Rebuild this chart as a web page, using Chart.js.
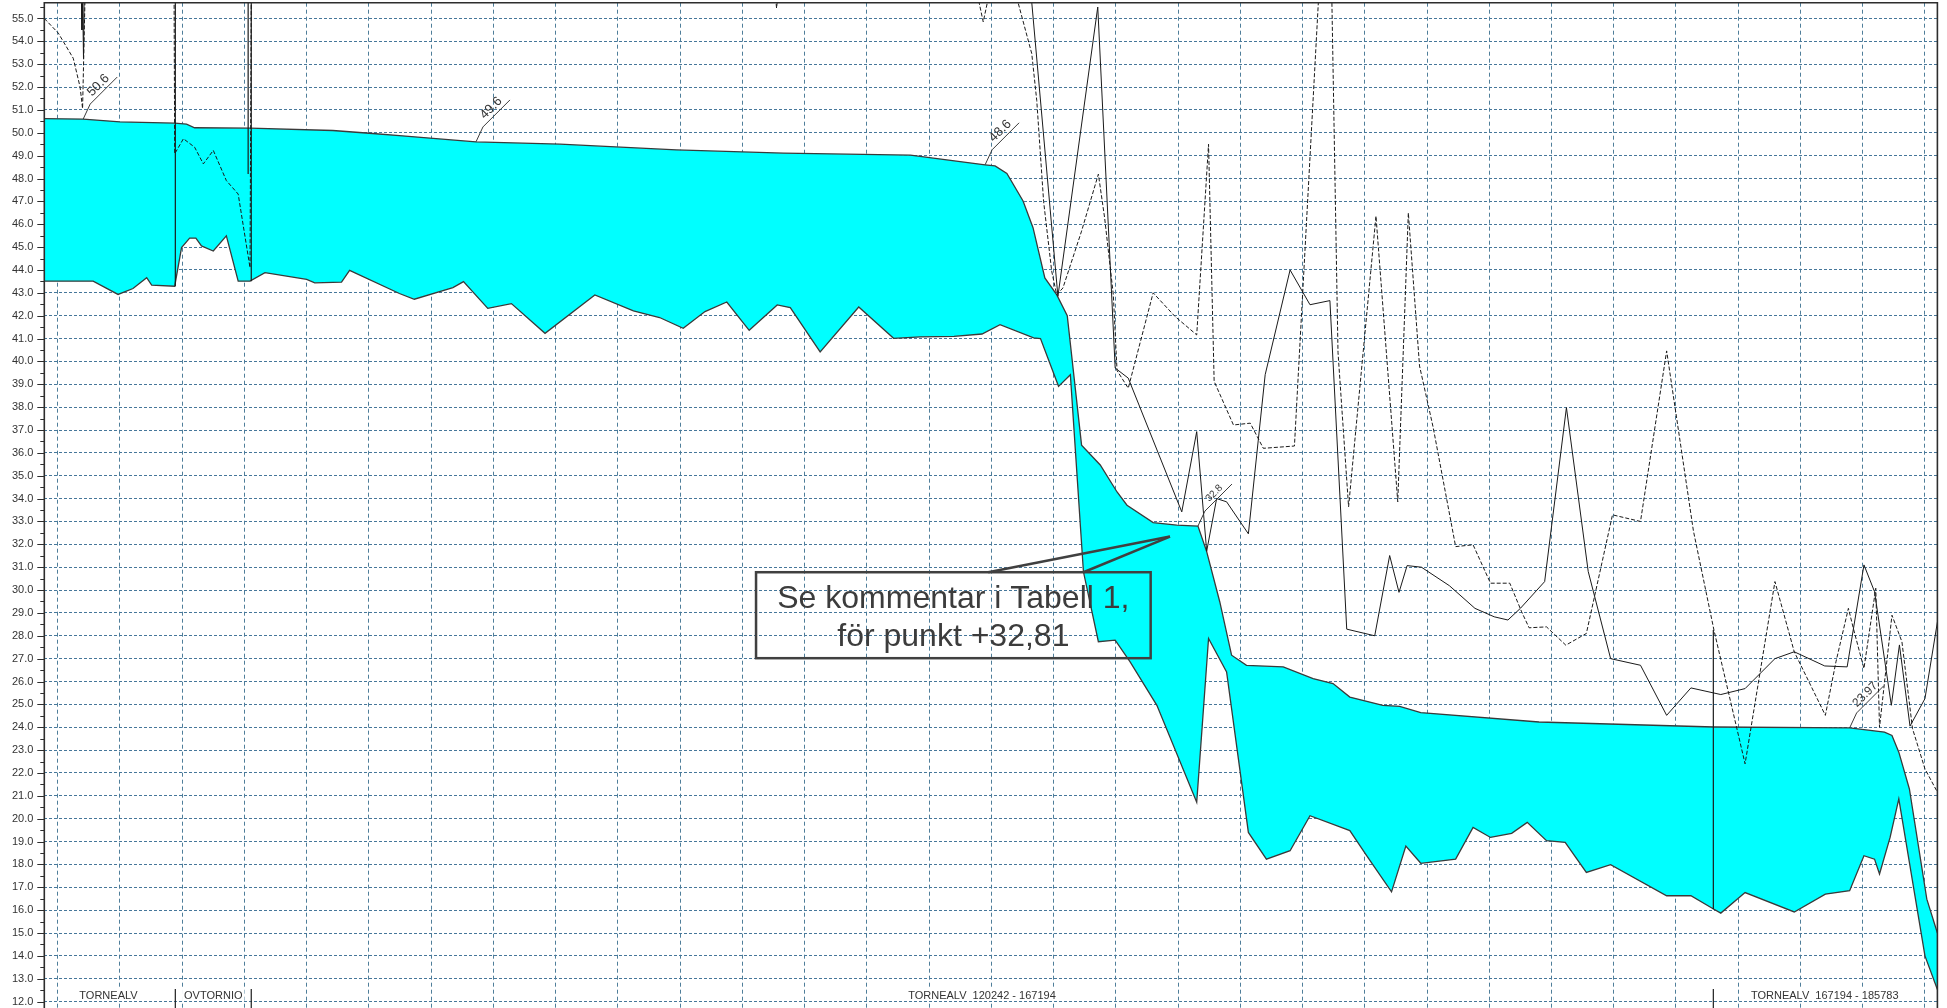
<!DOCTYPE html>
<html>
<head>
<meta charset="utf-8">
<title>Tornealv - längdprofil</title>
<script src="https://cdn.jsdelivr.net/npm/chart.js@4.4.1/dist/chart.umd.min.js"></script>
<style>
  html, body { margin: 0; padding: 0; background: #fff; }
  #wrap { width: 1947px; height: 1008px; position: relative; }
</style>
</head>
<body>
<div id="wrap"><canvas id="profile"></canvas></div>
<script>
// station (grid units along the river) / elevation (m)
const waterSurface = [
  [-0.215, 50.62], [0.41, 50.6], [1.0, 50.48], [1.88, 50.42], [2.07, 50.38], [2.2, 50.22],
  [3.09, 50.2], [4.42, 50.1], [5.06, 49.97], [5.49, 49.88], [6.72, 49.6], [8.07, 49.5],
  [9.94, 49.25], [11.66, 49.11], [13.7, 49.02], [14.9, 48.6], [15.06, 48.55], [15.25, 48.22],
  [15.51, 47.02], [15.67, 45.85], [15.86, 43.65], [16.05, 42.92], [16.22, 42.0], [16.45, 36.34],
  [16.75, 35.47], [17.02, 34.29], [17.18, 33.71], [17.6, 32.95], [17.98, 32.84], [18.32, 32.8],
  [18.46, 31.68], [18.67, 29.49], [18.86, 27.15], [19.1, 26.71], [19.69, 26.64], [20.17, 26.13],
  [20.49, 25.91], [20.76, 25.32], [21.29, 24.96], [21.56, 24.91], [21.9, 24.64], [23.8, 24.23],
  [26.61, 24.01], [28.79, 23.97], [29.35, 23.79], [29.47, 23.64], [29.58, 22.91], [29.75, 21.3],
  [30.03, 16.48], [30.2, 15.0]
];

const channelBed = [
  [-0.215, 43.51], [0.57, 43.51], [0.97, 42.93], [1.21, 43.19], [1.43, 43.66], [1.51, 43.34],
  [1.88, 43.29], [1.99, 44.98], [2.12, 45.39], [2.22, 45.39], [2.31, 45.05], [2.5, 44.83],
  [2.71, 45.49], [2.9, 43.51], [3.09, 43.51], [3.33, 43.88], [4.0, 43.59], [4.13, 43.44],
  [4.56, 43.47], [4.69, 43.98], [5.49, 42.97], [5.73, 42.72], [6.35, 43.23], [6.52, 43.49],
  [6.91, 42.32], [7.29, 42.53], [7.83, 41.23], [8.63, 42.91], [9.25, 42.21], [9.67, 41.92],
  [10.05, 41.45], [10.4, 42.18], [10.75, 42.6], [11.11, 41.36], [11.56, 42.47], [11.77, 42.35],
  [12.25, 40.42], [12.87, 42.38], [13.43, 41.01], [13.86, 41.07], [14.4, 41.1], [14.85, 41.2],
  [15.14, 41.61], [15.68, 41.03], [15.79, 41.0], [16.08, 38.91], [16.27, 39.42], [16.48, 30.8],
  [16.72, 27.74], [16.99, 27.81], [17.23, 26.86], [17.66, 24.96], [18.3, 20.72], [18.49, 27.88],
  [18.78, 26.42], [19.13, 19.4], [19.42, 18.23], [19.8, 18.6], [20.12, 20.13], [20.76, 19.48],
  [21.03, 18.38], [21.43, 16.8], [21.66, 18.8], [21.9, 18.05], [22.46, 18.23], [22.74, 19.62],
  [23.02, 19.18], [23.36, 19.36], [23.61, 19.84], [23.92, 19.04], [24.22, 18.96], [24.56, 17.65],
  [24.95, 17.99], [25.85, 16.63], [26.24, 16.63], [26.61, 16.04], [26.72, 15.87], [27.11, 16.77],
  [27.9, 15.92], [28.4, 16.7], [28.79, 16.85], [29.02, 18.38], [29.19, 18.23], [29.27, 17.58],
  [29.44, 19.18], [29.58, 20.87], [30.0, 14.0], [30.2, 12.53]
];

// bank levels, mostly above the plotted range upstream
const leftBank = [
  [-0.215, 56], [0.38, 56], [0.39, 54.5], [0.4, 56], [0.405, 56], [0.415, 53.25], [0.425, 56],
  [15.64, 56], [16.07, 42.85], [16.71, 55.5], [16.99, 39.71], [17.2, 39.27], [18.06, 33.42],
  [18.3, 36.93], [18.46, 31.7], [18.62, 34.0], [18.78, 33.86], [19.13, 32.46], [19.4, 39.42],
  [19.8, 44.0], [20.12, 42.48], [20.44, 42.66], [20.71, 28.29], [21.16, 28.0], [21.4, 31.51],
  [21.55, 29.9], [21.68, 31.07], [21.91, 31.0], [22.36, 30.19], [22.77, 29.2], [23.08, 28.83],
  [23.3, 28.69], [23.5, 29.2], [23.89, 30.37], [24.24, 37.98], [24.59, 30.81], [24.95, 27.0],
  [25.43, 26.71], [25.85, 24.52], [26.24, 25.72], [26.72, 25.43], [27.11, 25.69], [27.59, 27.0],
  [27.9, 27.3], [28.39, 26.68], [28.75, 26.64], [29.02, 31.1], [29.19, 29.93], [29.46, 24.96],
  [29.59, 27.6], [29.76, 24.05], [30.0, 25.25], [30.2, 28.6]
];

const rightBank = [
  [-0.215, 55.0], [0.01, 54.36], [0.25, 53.26], [0.36, 52.0], [0.4, 51.06], [0.44, 56],
  [1.87, 56], [1.88, 49.08], [2.02, 49.74], [2.2, 49.37], [2.34, 48.64], [2.5, 49.23],
  [2.71, 47.91], [2.9, 47.32], [3.09, 44.1], [3.11, 56], [11.53, 56], [11.55, 55.45],
  [11.57, 56], [14.78, 56], [14.87, 54.85], [14.96, 56], [15.4, 56], [15.65, 53.46],
  [15.73, 51.41], [15.84, 47.0], [15.97, 43.95], [16.05, 42.92], [16.15, 43.21], [16.45, 45.7],
  [16.72, 48.19], [16.82, 46.29], [16.96, 42.92], [17.02, 39.6], [17.2, 38.83], [17.6, 43.0],
  [17.95, 41.97], [18.3, 41.16], [18.49, 49.5], [18.58, 39.13], [18.89, 37.22], [19.16, 37.3],
  [19.37, 36.2], [19.87, 36.3], [20.26, 56], [20.47, 56], [20.57, 40.4], [20.74, 33.64],
  [21.18, 46.36], [21.53, 33.86], [21.7, 46.5], [21.88, 39.8], [22.1, 37.1], [22.46, 31.9],
  [22.74, 31.98], [23.02, 30.3], [23.33, 30.3], [23.52, 29.05], [23.64, 28.35], [23.92, 28.39],
  [24.23, 27.59], [24.56, 28.1], [24.98, 33.29], [25.43, 33.0], [25.85, 40.46], [26.28, 32.59],
  [26.61, 28.25], [27.11, 22.4], [27.59, 30.37], [27.9, 27.3], [28.4, 24.52], [28.57, 26.86],
  [28.77, 29.2], [28.85, 28.32], [29.02, 26.57], [29.21, 30.08], [29.27, 24.0], [29.47, 28.9],
  [29.63, 27.74], [29.8, 23.94], [30.0, 22.18], [30.2, 21.16]
];

// vertical structure lines: station, upper and lower elevation
const structureLines = [[1.89, 56, 43.29], [3.06, 56, 48.2], [3.11, 56, 43.51], [26.6, 28.25, 16.04]];

// water levels written on the profile (stations in waterSurface)
const wsTagAt = [0.41, 6.72, 14.9, 18.32, 28.79];

const reachNames = ['TORNEALV', 'OVTORNIO', 'TORNEALV  120242 - 167194', 'TORNEALV  167194 - 185783'];
const reachNameAt = [0.816, 2.5, 14.85, 28.39];
const reachBreaks = [1.89, 3.11, 26.6];

const noteLines = ['Se kommentar i Tabell 1,', 'för punkt +32,81'];

const elevTicks = [12, 13, 14, 15, 16, 17, 18, 19, 20, 21, 22, 23, 24, 25, 26, 27, 28, 29, 30, 31,
  32, 33, 34, 35, 36, 37, 38, 39, 40, 41, 42, 43, 44, 45, 46, 47, 48, 49, 50, 51, 52, 53, 54, 55];
const gridStations = [0, 1, 2, 3, 4, 5, 6, 7, 8, 9, 10, 11, 12, 13, 14, 15, 16, 17, 18, 19, 20,
  21, 22, 23, 24, 25, 26, 27, 28, 29, 30];

const FONT = '"Liberation Sans", Arial, sans-serif';
const toPts = arr => arr.map(([x, y]) => ({ x, y }));

const markerPts = [];
structureLines.forEach(([st, top, bot]) => {
  markerPts.push({ x: st, y: top }, { x: st, y: bot }, { x: st, y: null });
});

// callout box placement in station / elevation units
const noteBox = { x0: 11.22, x1: 17.56, top: 30.78, bottom: 27.02, tipX: 17.87, tipY: 32.34, baseX: [14.95, 16.48] };
const tagFontSize = [13, 13, 13, 10, 12];

const frame = {
  id: 'frame',
  afterDraw(chart) {
    const { ctx, chartArea: a, scales: { y } } = chart;
    ctx.save();
    ctx.strokeStyle = '#2d2d2d';
    ctx.lineWidth = 1;
    for (let v = 12; v <= 55.5; v += 0.5) {
      const py = Math.round(y.getPixelForValue(v)) + 0.5;
      const len = v % 1 === 0 ? 7 : 4;
      ctx.beginPath();
      ctx.moveTo(a.left - len, py);
      ctx.lineTo(a.left, py);
      ctx.stroke();
    }
    ctx.lineWidth = 1.6;
    ctx.beginPath();
    ctx.moveTo(a.left, a.bottom);
    ctx.lineTo(a.left, a.top);
    ctx.lineTo(a.right, a.top);
    ctx.lineTo(a.right, a.bottom);
    ctx.stroke();
    ctx.restore();
  }
};

const wsTags = {
  id: 'wsTags',
  afterDatasetsDraw(chart) {
    const { ctx, scales: { x, y } } = chart;
    ctx.save();
    wsTagAt.forEach((st, k) => {
      const pt = waterSurface.find(p => p[0] === st);
      const px = x.getPixelForValue(pt[0]);
      const py = y.getPixelForValue(pt[1]);
      const p1 = [px + 7, py - 15];
      const p2 = [p1[0] + 27, p1[1] - 27];
      ctx.strokeStyle = '#3a3a3a';
      ctx.lineWidth = 1;
      ctx.beginPath();
      ctx.moveTo(px, py);
      ctx.lineTo(p1[0], p1[1]);
      ctx.lineTo(p2[0], p2[1]);
      ctx.stroke();
      ctx.save();
      ctx.translate((p1[0] + p2[0]) / 2, (p1[1] + p2[1]) / 2);
      ctx.rotate(-Math.PI / 4);
      ctx.fillStyle = '#333';
      ctx.font = tagFontSize[k] + 'px ' + FONT;
      ctx.textAlign = 'center';
      ctx.textBaseline = 'bottom';
      ctx.fillText(String(pt[1]), 0, -1);
      ctx.restore();
    });
    ctx.restore();
  }
};

const callout = {
  id: 'callout',
  afterDatasetsDraw(chart) {
    const { ctx, scales: { x, y } } = chart;
    const L = x.getPixelForValue(noteBox.x0), R = x.getPixelForValue(noteBox.x1);
    const T = y.getPixelForValue(noteBox.top), B = y.getPixelForValue(noteBox.bottom);
    const tx = x.getPixelForValue(noteBox.tipX), ty = y.getPixelForValue(noteBox.tipY);
    ctx.save();
    ctx.strokeStyle = '#404040';
    ctx.lineWidth = 2.5;
    ctx.strokeRect(L, T, R - L, B - T);
    noteBox.baseX.forEach(bx => {
      ctx.beginPath();
      ctx.moveTo(x.getPixelForValue(bx), T);
      ctx.lineTo(tx, ty);
      ctx.stroke();
    });
    ctx.fillStyle = '#3c3c3c';
    ctx.font = '32px ' + FONT;
    ctx.textAlign = 'center';
    ctx.textBaseline = 'alphabetic';
    ctx.fillText(noteLines[0], (L + R) / 2, T + 36);
    ctx.fillText(noteLines[1], (L + R) / 2, T + 74);
    ctx.restore();
  }
};

const reaches = {
  id: 'reaches',
  afterDatasetsDraw(chart) {
    const { ctx, chartArea: a, scales: { x } } = chart;
    const cy = a.bottom - 13;
    ctx.save();
    ctx.strokeStyle = '#1e1e1e';
    ctx.lineWidth = 1.2;
    reachBreaks.forEach(st => {
      const px = x.getPixelForValue(st);
      ctx.beginPath();
      ctx.moveTo(px, cy - 6);
      ctx.lineTo(px, a.bottom);
      ctx.stroke();
    });
    ctx.font = '11px ' + FONT;
    ctx.textAlign = 'center';
    ctx.textBaseline = 'middle';
    reachNames.forEach((name, k) => {
      const cx = x.getPixelForValue(reachNameAt[k]);
      const w = ctx.measureText(name).width;
      ctx.fillStyle = '#fff';
      ctx.fillRect(cx - w / 2 - 2, cy - 6, w + 4, 12);
      ctx.fillStyle = '#333';
      ctx.fillText(name, cx, cy + 0.5);
    });
    ctx.restore();
  }
};

new Chart(document.getElementById('profile'), {
  type: 'line',
  data: {
    datasets: [
      { label: 'Konstruktion', data: markerPts, borderColor: '#1a1a1a', borderWidth: 1.2, spanGaps: false },
      { label: 'Vänster strand', data: toPts(leftBank), borderColor: '#1a1a1a', borderWidth: 1 },
      { label: 'Höger strand', data: toPts(rightBank), borderColor: '#1a1a1a', borderWidth: 1, borderDash: [4, 2] },
      { label: 'Vattenyta', data: toPts(waterSurface), borderColor: '#3a3a3a', borderWidth: 1.3 },
      { label: 'Botten', data: toPts(channelBed), borderColor: '#3a3a3a', borderWidth: 1.3,
        fill: '-1', backgroundColor: '#00ffff' }
    ]
  },
  options: {
    responsive: true,
    maintainAspectRatio: false,
    animation: false,
    events: [],
    layout: { padding: { top: 2.7, right: 9.6, bottom: 0, left: 0 } },
    elements: { point: { radius: 0, hitRadius: 0 }, line: { tension: 0, fill: false } },
    plugins: { legend: { display: false }, tooltip: { enabled: false } },
    scales: {
      x: {
        type: 'linear', min: -0.215, max: 30.2,
        afterBuildTicks: s => { s.ticks = gridStations.map(v => ({ value: v })); },
        afterFit: s => { s.height = 0; s.paddingLeft = 0; s.paddingRight = 0; },
        ticks: { display: false },
        grid: { color: '#4f7e9a', lineWidth: 1, drawTicks: false },
        border: { display: false, dash: [4, 3] }
      },
      y: {
        type: 'linear', min: 11.72, max: 55.69,
        afterBuildTicks: s => { s.ticks = elevTicks.map(v => ({ value: v })); },
        // keep the plot area flush with the canvas edges
        afterFit: s => { s.width = 44.3; s.paddingTop = 0; s.paddingBottom = 0; },
        ticks: {
          autoSkip: false, padding: 11, color: '#333',
          font: { family: FONT, size: 11 },
          callback: v => v.toFixed(1)
        },
        grid: { color: '#46779a', lineWidth: 1, drawTicks: false },
        border: { display: false, dash: [3, 2] }
      }
    }
  },
  plugins: [frame, wsTags, callout, reaches]
});
</script>
</body>
</html>
